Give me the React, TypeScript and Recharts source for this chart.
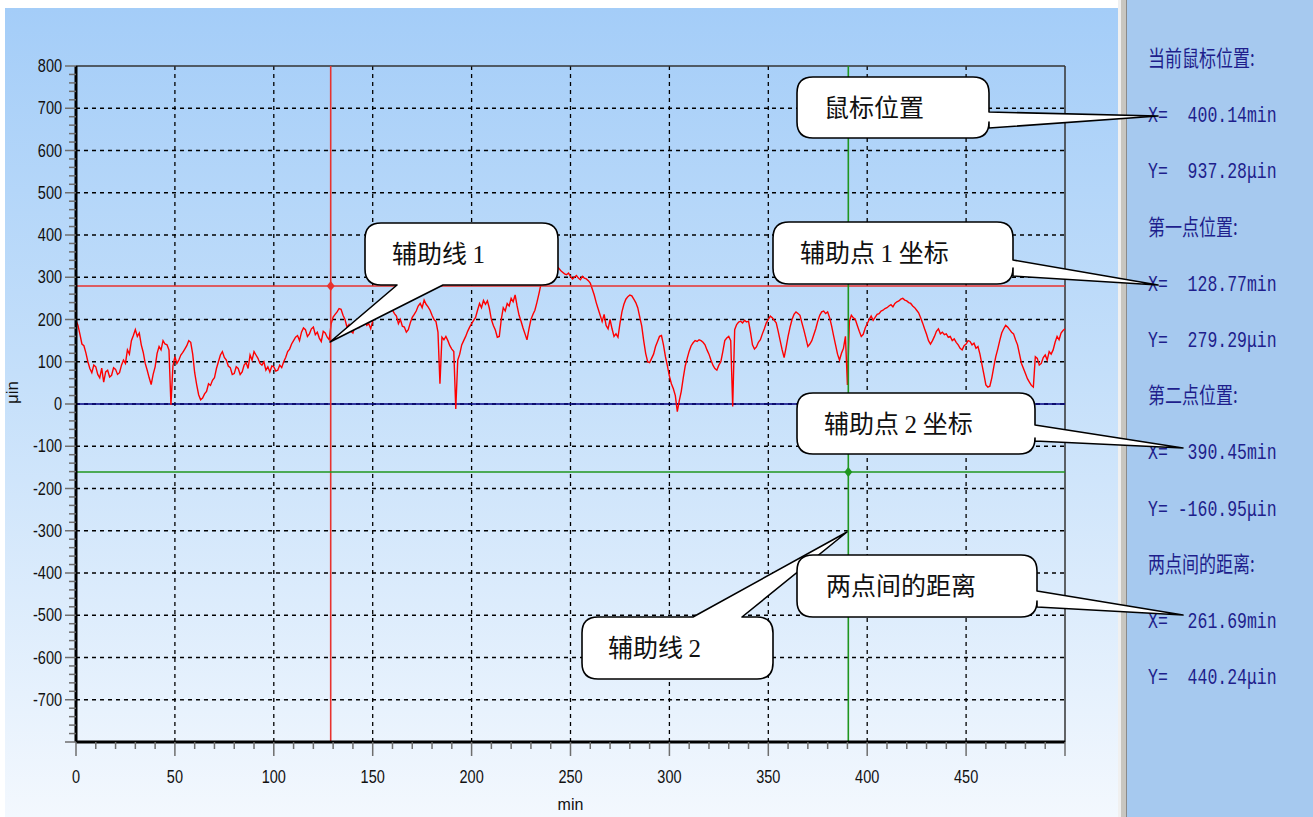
import React from 'react';
import {
  LineChart,
  Line,
  XAxis,
  YAxis,
  CartesianGrid,
  ReferenceLine,
  ReferenceDot,
} from 'recharts';

// surface profile, one reading per minute, in μin
const SAMPLE_STEP = 1;
const profile = [
  198, 186, 165, 142, 138, 121, 100, 84, 74, 92,
  88, 70, 62, 85, 52, 76, 80, 64, 68, 86,
  82, 70, 74, 92, 104, 96, 128, 118, 150, 162,
  176, 160, 168, 140, 122, 96, 80, 62, 46, 70,
  88, 120, 136, 128, 150, 142, 140, 128, -2, 90,
  112, 96, 104, 116, 122, 130, 138, 150, 146, 118,
  74, 46, 22, 10, 14, 24, 30, 48, 44, 56,
  62, 84, 100, 116, 124, 110, 104, 90, 86, 70,
  72, 88, 84, 70, 76, 92, 98, 84, 116, 104,
  124, 116, 108, 96, 92, 100, 80, 88, 76, 90,
  88, 78, 80, 92, 86, 100, 110, 124, 130, 142,
  150, 158, 162, 150, 170, 180, 176, 160, 166, 178,
  182, 164, 170, 156, 148, 172, 168, 158, 152, 190,
  206, 212, 218, 226, 224, 210, 200, 182, 188, 172,
  168, 184, 192, 182, 205, 196, 198, 186, 190, 178,
  196, 208, 218, 212, 230, 238, 244, 250, 236, 228,
  222, 214, 208, 190, 200, 184, 182, 170, 176, 192,
  205, 212, 220, 232, 238, 228, 246, 236, 230, 222,
  210, 200, 195, 170, 48, 158, 152, 160, 150, 138,
  130, 124, -12, 104, 118, 140, 150, 160, 172, 182,
  190, 198, 205, 222, 238, 228, 245, 236, 244, 226,
  200, 186, 175, 158, 160, 200, 228, 220, 238, 232,
  250, 242, 258, 232, 210, 196, 180, 166, 152, 178,
  200, 212, 222, 240, 260, 282, 298, 310, 318, 326,
  332, 336, 330, 324, 322, 316, 312, 308, 306, 310,
  302, 296, 300, 304, 298, 294, 302, 298, 296, 292,
  286, 272, 258, 240, 225, 210, 195, 212, 186, 178,
  200, 178, 160, 166, 158, 190, 218, 236, 248, 254,
  258, 256, 248, 240, 228, 206, 185, 150, 120, 100,
  98, 108, 118, 136, 148, 160, 162, 140, 112, 90,
  66, 48, 36, 20, -18, 8, 30, 62, 90, 108,
  125, 138, 145, 150, 148, 152, 150, 146, 140, 128,
  118, 104, 92, 84, 80, 92, 100, 124, 150, 156,
  160, 150, -6, 176, 188, 194, 196, 192, 198, 194,
  196, 170, 140, 130, 135, 146, 152, 166, 178, 192,
  200, 208, 204, 198, 192, 172, 150, 128, 110, 134,
  160, 182, 200, 212, 218, 214, 210, 192, 175, 156,
  136, 142, 150, 164, 178, 196, 210, 218, 220, 214,
  218, 204, 185, 162, 140, 118, 104, 120, 132, 160,
  45, 196, 210, 204, 200, 186, 172, 160, 165, 180,
  190, 200, 208, 198, 205, 212, 214, 220, 222, 226,
  228, 232, 235, 230, 238, 242, 244, 248, 250, 246,
  244, 240, 238, 232, 228, 222, 216, 204, 192, 178,
  165, 150, 142, 150, 160, 172, 178, 166, 170, 164,
  166, 158, 160, 150, 154, 146, 140, 132, 128, 138,
  142, 150, 148, 140, 144, 132, 136, 118, 94, 70,
  45, 40, 42, 62, 88, 112, 130, 150, 168, 178,
  186, 182, 176, 170, 166, 152, 140, 118, 96, 84,
  72, 60, 52, 44, 40, 112, 108, 92, 96, 110,
  116, 104, 124, 118, 128, 146, 160, 152, 168, 174,
  178,
];

// cursor readout and the two marker points
const cursor = { x: 400.14, y: 937.28 };
const point1 = { x: 128.77, y: 279.29 };
const point2 = { x: 390.45, y: -160.95 };
const spacing = { x: 261.69, y: 440.24 };

const yGrid = [-700, -600, -500, -400, -300, -200, -100, 0, 100, 200, 300, 400, 500, 600, 700];
const xGrid = [50, 100, 150, 200, 250, 300, 350, 400, 450];
const yTicks = Array.from({ length: 81 }, (_, i) => -800 + i * 20);
const xTicks = Array.from({ length: 51 }, (_, i) => i * 10);

const data = profile.map((h, i) => ({ t: i * SAMPLE_STEP, h }));

const AXIS_FONT = "'Liberation Sans', Arial, sans-serif";
const CJK_FONT = "'Noto Sans CJK SC', sans-serif";
const SERIF_FONT = "'Liberation Serif', serif";
const MONO_FONT = "'Liberation Mono', monospace";

const fmt = (v: number) => v.toFixed(2).padStart(7, ' ');

const panelRows = [
  '当前鼠标位置:',
  `X= ${fmt(cursor.x)}min`,
  `Y= ${fmt(cursor.y)}μin`,
  '第一点位置:',
  `X= ${fmt(point1.x)}min`,
  `Y= ${fmt(point1.y)}μin`,
  '第二点位置:',
  `X= ${fmt(point2.x)}min`,
  `Y= ${fmt(point2.y)}μin`,
  '两点间的距离:',
  `X= ${fmt(spacing.x)}min`,
  `Y= ${fmt(spacing.y)}μin`,
];

const YTick = (props: any) => {
  const { x, y, payload } = props;
  const v = payload.value as number;
  const major = v % 100 === 0;
  return (
    <g>
      <line x1={x + (major ? 3 : 7)} x2={x + 14} y1={y} y2={y} stroke="#6e6e6e" strokeWidth={1.5} />
      {major && v > -800 && (
        <text
          transform={`translate(${x} ${y + 6}) scale(1 1.28)`}
          textAnchor="end"
          fontFamily={AXIS_FONT}
          fontSize={14.5}
          fill="#111"
        >
          {v}
        </text>
      )}
    </g>
  );
};

const XTick = (props: any) => {
  const { x, y, payload } = props;
  const v = payload.value as number;
  const major = v % 50 === 0;
  return (
    <g>
      <line x1={x} x2={x} y1={y - 14} y2={major ? y : y - 7} stroke="#6e6e6e" strokeWidth={1.5} />
      {major && v < 500 && (
        <text
          transform={`translate(${x} ${y + 27}) scale(1 1.28)`}
          textAnchor="middle"
          fontFamily={AXIS_FONT}
          fontSize={14.5}
          fill="#111"
        >
          {v}
        </text>
      )}
    </g>
  );
};

const Diamond = (color: string) => (props: any) => {
  const { cx, cy } = props;
  return <polygon points={`${cx},${cy - 5} ${cx + 4},${cy} ${cx},${cy + 5} ${cx - 4},${cy}`} fill={color} />;
};

type Tail = { side: 'right' | 'top' | 'bottom'; a: number; b: number; tip: [number, number] };
type Part = { text: string; serif?: boolean };

// rounded speech bubble with a wedge tail
const bubblePath = (x: number, y: number, w: number, h: number, tail: Tail) => {
  const r = 16;
  const [tx, ty] = tail.tip;
  const R = x + w;
  const B = y + h;
  let p = `M ${x + r} ${y}`;
  if (tail.side === 'top') p += ` H ${tail.a} L ${tx} ${ty} L ${tail.b} ${y}`;
  p += ` H ${R - r} Q ${R} ${y} ${R} ${y + r}`;
  if (tail.side === 'right') p += ` V ${tail.a} L ${tx} ${ty} L ${R} ${tail.b}`;
  p += ` V ${B - r} Q ${R} ${B} ${R - r} ${B}`;
  if (tail.side === 'bottom') p += ` H ${tail.b} L ${tx} ${ty} L ${tail.a} ${B}`;
  p += ` H ${x + r} Q ${x} ${B} ${x} ${B - r} V ${y + r} Q ${x} ${y} ${x + r} ${y} Z`;
  return p;
};

const Callout = ({ box, tail, parts, textX }: { box: [number, number, number, number]; tail: Tail; parts: Part[]; textX: number }) => {
  const [x, y, w, h] = box;
  return (
    <g>
      <path d={bubblePath(x, y, w, h, tail)} fill="#fff" stroke="#000" strokeWidth={1.6} strokeLinejoin="round" />
      <text x={textX} y={y + h / 2 + 9} fontSize={25} fill="#111">
        {parts.map((p, i) => (
          <tspan key={i} fontFamily={p.serif ? SERIF_FONT : CJK_FONT}>
            {p.text}
          </tspan>
        ))}
      </text>
    </g>
  );
};

export default function App() {
  return (
    <div style={{ position: 'absolute', left: 0, top: 0, width: 1313, height: 817, background: '#fff', overflow: 'hidden' }}>
      <div
        style={{
          position: 'absolute',
          left: 5,
          top: 8,
          width: 1113,
          height: 809,
          background: 'linear-gradient(to bottom, #a4cdf8 0%, #c4dffa 45%, #f3f8fe 100%)',
        }}
      />
      <div style={{ position: 'absolute', left: 1118, top: 0, width: 3, height: 817, background: '#f0f0f0' }} />
      <div style={{ position: 'absolute', left: 1121, top: 0, width: 5, height: 817, background: '#c8c6c0' }} />
      <div style={{ position: 'absolute', left: 1126, top: 0, width: 1, height: 817, background: '#8a8a8a' }} />
      <div style={{ position: 'absolute', left: 1127, top: 0, width: 186, height: 817, background: '#a6c9ef' }} />

      <div style={{ position: 'absolute', left: 0, top: 0 }}>
        <LineChart width={1120} height={817} data={data} margin={{ top: 66, right: 55, bottom: 0, left: 0 }}>
          <CartesianGrid
            horizontalValues={yGrid}
            verticalValues={xGrid}
            stroke="#000"
            strokeWidth={1.3}
            strokeDasharray="4 4"
          />
          <XAxis
            dataKey="t"
            type="number"
            domain={[0, 500]}
            ticks={xTicks}
            interval={0}
            height={75}
            tickSize={14}
            tickMargin={0}
            tickLine={false}
            tick={<XTick />}
            axisLine={{ stroke: '#000', strokeWidth: 3 }}
            label={{ value: 'min', position: 'insideBottom', offset: 7, fontFamily: AXIS_FONT, fontSize: 16, fill: '#111' }}
          />
          <YAxis
            type="number"
            domain={[-800, 800]}
            allowDataOverflow
            ticks={yTicks}
            interval={0}
            width={76}
            tickSize={11}
            tickMargin={3}
            tickLine={false}
            tick={<YTick />}
            axisLine={{ stroke: '#000', strokeWidth: 3 }}
            label={{ value: 'μin', angle: -90, position: 'insideLeft', offset: 12, fontFamily: AXIS_FONT, fontSize: 17, fill: '#111' }}
          />
          <ReferenceLine y={800} stroke="#333" strokeWidth={1.5} />
          <ReferenceLine x={500} stroke="#333" strokeWidth={1.5} />
          <ReferenceLine y={0} stroke="#000080" strokeWidth={1.6} />
          <Line
            type="linear"
            dataKey="h"
            stroke="#ff0000"
            strokeWidth={1.4}
            dot={false}
            isAnimationActive={false}
          />
          <ReferenceLine y={point1.y} stroke="#e8322e" strokeWidth={1.6} />
          <ReferenceLine x={point1.x} stroke="#e8322e" strokeWidth={1.6} />
          <ReferenceLine y={point2.y} stroke="#1f961f" strokeWidth={1.6} />
          <ReferenceLine x={point2.x} stroke="#1f961f" strokeWidth={1.6} />
          <ReferenceDot x={point1.x} y={point1.y} shape={Diamond('#e8322e')} />
          <ReferenceDot x={point2.x} y={point2.y} shape={Diamond('#1f961f')} />
        </LineChart>
      </div>

      <svg width={1313} height={817} style={{ position: 'absolute', left: 0, top: 0, pointerEvents: 'none' }}>
        {panelRows.map((row, i) => (
          <text
            key={i}
            transform={`translate(1148 ${66 + i * 56.2}) scale(1 1.3)`}
            fontFamily={i % 3 === 0 ? CJK_FONT : MONO_FONT}
            fontSize={i % 3 === 0 ? 17 : 16.5}
            fill="#1e1e8c"
            style={{ whiteSpace: 'pre' }}
          >
            {row}
          </text>
        ))}

        <Callout
          box={[582, 617, 191, 62]}
          tail={{ side: 'top', a: 693, b: 742, tip: [847, 532] }}
          parts={[{ text: '辅助线 ' }, { text: '2', serif: true }]}
          textX={608}
        />
        <Callout
          box={[797, 555, 240, 62]}
          tail={{ side: 'right', a: 591, b: 607, tip: [1183, 615] }}
          parts={[{ text: '两点间的距离' }]}
          textX={826}
        />
        <Callout
          box={[797, 393, 238, 61]}
          tail={{ side: 'right', a: 425, b: 441, tip: [1183, 448] }}
          parts={[{ text: '辅助点 ' }, { text: '2', serif: true }, { text: ' 坐标' }]}
          textX={824}
        />
        <Callout
          box={[773, 222, 240, 62]}
          tail={{ side: 'right', a: 260, b: 276, tip: [1158, 285] }}
          parts={[{ text: '辅助点 ' }, { text: '1', serif: true }, { text: ' 坐标' }]}
          textX={800}
        />
        <Callout
          box={[365, 223, 193, 62]}
          tail={{ side: 'bottom', a: 397, b: 443, tip: [330, 342] }}
          parts={[{ text: '辅助线 ' }, { text: '1', serif: true }]}
          textX={392}
        />
        <Callout
          box={[797, 77, 192, 61]}
          tail={{ side: 'right', a: 112, b: 128, tip: [1158, 116] }}
          parts={[{ text: '鼠标位置' }]}
          textX={824}
        />
      </svg>
    </div>
  );
}
